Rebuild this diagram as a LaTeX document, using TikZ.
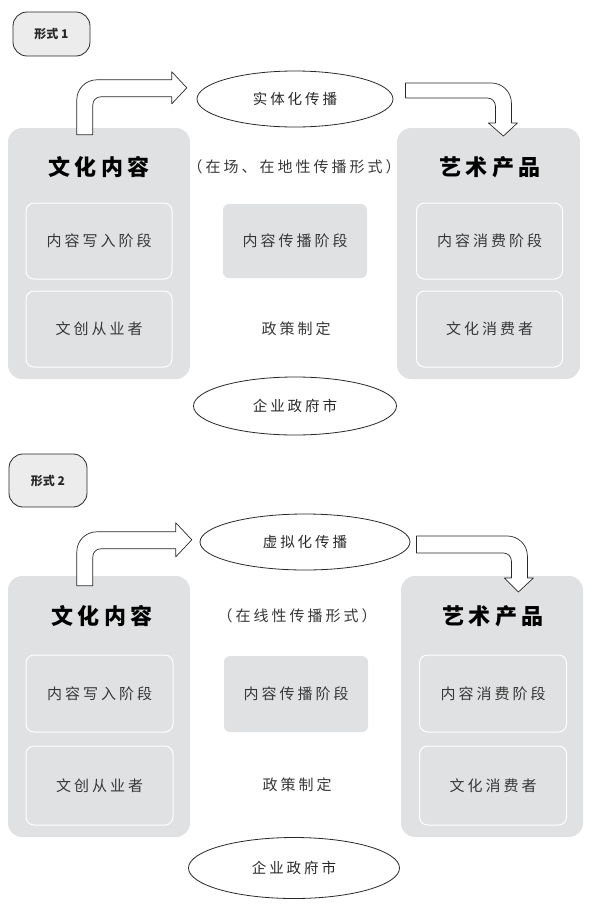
\documentclass[tikz,border=0pt]{standalone}
\usepackage{fontspec}
\usetikzlibrary{shapes.geometric,calc}
\newfontfamily\cjk[LetterSpace=20]{Noto Sans CJK SC}
\newfontfamily\cjktag{Noto Sans CJK SC}
\definecolor{boxgray}{RGB}{224,225,226}
\definecolor{taggray}{RGB}{236,236,236}
\definecolor{inkdark}{RGB}{40,40,40}
\definecolor{inkgray}{RGB}{55,55,55}
\tikzset{
 bigbox/.style={fill=boxgray,rounded corners=14pt,minimum width=182pt,minimum height=251pt,inner sep=0pt},
 subbox/.style={fill=boxgray,draw=white,line width=1pt,rounded corners=8pt,minimum width=146pt,minimum height=76pt,inner sep=0pt,text=inkgray,font=\cjk\fontsize{15}{18}\selectfont},
 midbox/.style={fill=boxgray,rounded corners=6pt,minimum width=144pt,minimum height=74pt,inner sep=0pt,text=inkgray,font=\cjk\fontsize{15}{18}\selectfont},
 oval/.style={ellipse,draw=inkdark,line width=0.8pt,fill=white,inner sep=0pt,text=inkdark,font=\cjk\fontsize{14.5}{17}\selectfont},
 tagbox/.style={draw=inkdark,line width=0.8pt,fill=taggray,rounded corners=14pt,minimum width=77pt,minimum height=44pt,inner sep=0pt,text=inkdark,font=\cjktag\bfseries\fontsize{12}{14}\selectfont},
 boxtitle/.style={text=black,font=\cjk\bfseries\fontsize{22}{26}\selectfont},
 plaintext/.style={text=inkgray,font=\cjk\fontsize{15}{18}\selectfont},
 barrow/.style={draw=inkdark,fill=white,line width=0.7pt,line join=round}
}
\begin{document}
\begin{tikzpicture}[x=1pt,y=-1pt]
 \useasboundingbox (0,0) rectangle (600,908);
 \node[tagbox] (tag1) at (51.5,34) {形式 1};
 \node[bigbox] (cont1) at (99,253.5) {};
 \node[bigbox,minimum width=183pt] (prod1) at (488.5,253.5) {};
 \node[boxtitle] (title1a) at (99,167) {文化内容};
 \node[boxtitle] (title1b) at (490,167) {艺术产品};
 \node[plaintext] (form1) at (294,167) {（在场、在地性传播形式）};
 \node[subbox] (in1) at (99,241) {内容写入阶段};
 \node[subbox] (maker1) at (99,329) {文创从业者};
 \node[midbox] (mid1) at (295,241) {内容传播阶段};
 \node[plaintext] (policy1) at (296,329) {政策制定};
 \node[subbox] (con1) at (489.5,241) {内容消费阶段};
 \node[subbox] (user1) at (489.5,329) {文化消费者};
 \node[oval,minimum width=196pt,minimum height=56pt] (spread1) at (295,99) {实体化传播};
 \node[oval,minimum width=203pt,minimum height=58pt] (gov1) at (295,406) {企业政府市};
 \draw[barrow] ($(cont1.north west)+(69,7)$) -- ++(0,-35) arc[start angle=180,end angle=270,radius=20] -- ++(75,0) -- ++(0,-8) -- ++(15,16) -- ++(-15,16) -- ++(0,-7) -- ++(-71,0) arc[start angle=270,end angle=180,radius=8] -- ++(0,30) -- cycle;
 \draw[barrow] ($(spread1.east)+(12,-16)$) -- ++(86,0) arc[start angle=270,end angle=360,radius=20] -- ++(0,20) -- ++(6,0) -- ++(-14,13) -- ++(-15,-13) -- ++(7,0) -- ++(0,-17) arc[start angle=0,end angle=-90,radius=8] -- ++(-82,0) -- cycle;

 \node[tagbox,minimum width=78pt,minimum height=53pt] (tag2) at (48,480.5) {形式 2};
 \node[bigbox,minimum height=261pt] (cont2) at (99,706.5) {};
 \node[bigbox,minimum height=261pt] (prod2) at (492,706.5) {};
 \node[boxtitle] (title2a) at (102,616) {文化内容};
 \node[boxtitle] (title2b) at (493,616) {艺术产品};
 \node[plaintext] (form2) at (297,616) {（在线性传播形式）};
 \node[subbox,minimum width=147pt,minimum height=77pt] (in2) at (99.5,693.5) {内容写入阶段};
 \node[subbox,minimum width=147pt,minimum height=79pt] (maker2) at (99.5,785.5) {文创从业者};
 \node[midbox,minimum height=76pt] (mid2) at (296,694) {内容传播阶段};
 \node[plaintext] (policy2) at (297,785) {政策制定};
 \node[subbox,minimum width=147pt,minimum height=77pt] (con2) at (493,693.5) {内容消费阶段};
 \node[subbox,minimum width=147pt,minimum height=79pt] (user2) at (493,785.5) {文化消费者};
 \node[oval,minimum width=210pt,minimum height=56pt] (spread2) at (305,542) {虚拟化传播};
 \node[oval,minimum width=211pt,minimum height=61pt] (gov2) at (294,868) {企业政府市};
 \draw[barrow] ($(cont2.north west)+(69,10)$) -- ++(0,-34) arc[start angle=180,end angle=270,radius=20] -- ++(79,0) -- ++(0,-9) -- ++(16,17) -- ++(-16,17) -- ++(0,-8) -- ++(-75,0) arc[start angle=270,end angle=180,radius=8] -- ++(0,29) -- cycle;
 \draw[barrow] ($(spread2.east)+(6,-6)$) -- ++(91,0) arc[start angle=270,end angle=360,radius=20] -- ++(0,22) -- ++(6,0) -- ++(-15,14) -- ++(-14,-14) -- ++(7,0) -- ++(0,-17) arc[start angle=0,end angle=-90,radius=8] -- ++(-87,0) -- cycle;
\end{tikzpicture}
\end{document}
